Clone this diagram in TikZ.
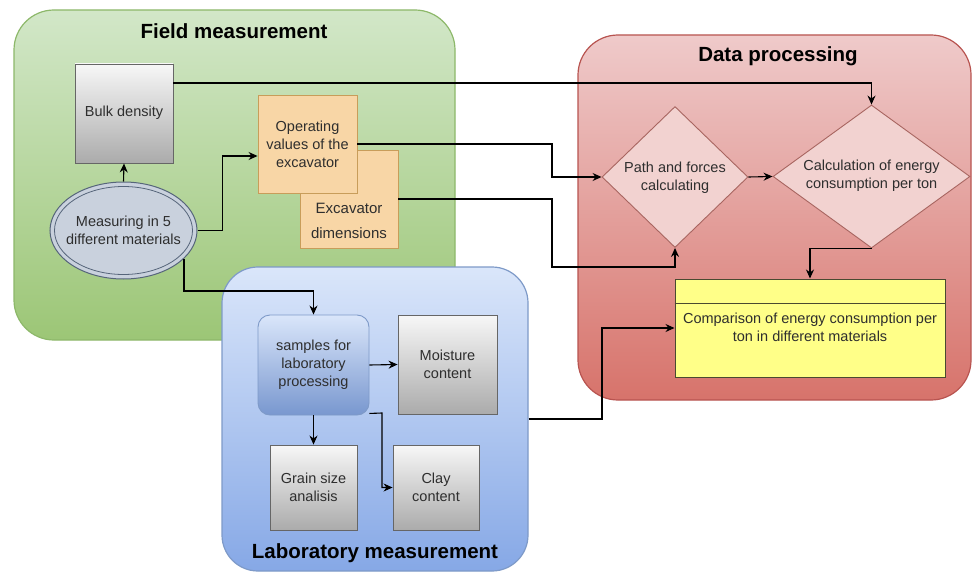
\documentclass[tikz,border=0pt]{standalone}
\usepackage{fontspec}
\setmainfont{Liberation Sans}
\usetikzlibrary{arrows.meta,shapes.geometric,calc}
\definecolor{gtop}{HTML}{D2E7C8}
\definecolor{gbot}{HTML}{9CC676}
\definecolor{gline}{HTML}{8DB86A}
\definecolor{rtop}{HTML}{EFCACA}
\definecolor{rbot}{HTML}{D7736B}
\definecolor{rline}{HTML}{B85450}
\definecolor{btop}{HTML}{DAE6FA}
\definecolor{bbot}{HTML}{86A8E6}
\definecolor{bline}{HTML}{7E9AC8}
\definecolor{grtop}{HTML}{F7F7F7}
\definecolor{grbot}{HTML}{ABABAB}
\definecolor{grline}{HTML}{666666}
\definecolor{ofill}{HTML}{F8D6A6}
\definecolor{oline}{HTML}{C89D5A}
\definecolor{efill}{HTML}{C9D1DD}
\definecolor{eline}{HTML}{56657A}
\definecolor{dfill}{HTML}{F2D2D0}
\definecolor{dline}{HTML}{A86560}
\definecolor{yfill}{HTML}{FFFF88}
\definecolor{yline}{HTML}{4A4A30}
\definecolor{txt}{HTML}{2E2E2E}
\tikzset{
  container/.style={draw, line width=1.2pt, rounded corners=40pt, inner sep=0pt},
  graybox/.style={draw=grline, line width=0.9pt, top color=grtop, bottom color=grbot, inner sep=0pt},
  orangebox/.style={draw=oline, line width=0.9pt, fill=ofill, inner sep=0pt},
  bodytext/.style={text=txt, font=\fontsize{14.5}{18}\selectfont, align=center, inner sep=0pt},
  titletext/.style={font=\bfseries\fontsize{20.5}{24}\selectfont, inner sep=0pt},
  conn/.style={draw=black, line width=1.1pt, -{Stealth[length=9pt,width=8pt]}},
}
\begin{document}
\begin{tikzpicture}[x=1pt,y=-1pt]
\useasboundingbox (0,0) rectangle (973,572);
\fill[white] (0,0) rectangle (973,572);
% containers
\node[container, draw=gline, top color=gtop, bottom color=gbot, minimum width=441pt, minimum height=330pt] (field) at (234.5,175) {};
\node[container, draw=rline, top color=rtop, bottom color=rbot, minimum width=393pt, minimum height=365pt] (data) at (774.5,217.5) {};
\node[container, draw=bline, rounded corners=36pt, top color=btop, bottom color=bbot, minimum width=306pt, minimum height=304pt] (lab) at (375,419) {};
\node[titletext] (fieldtitle) at (234,31) {Field measurement};
\node[titletext] (datatitle) at (778,56) {Data processing};
\node[titletext] (labtitle) at (375,553) {Laboratory measurement};
% field nodes
\node[graybox, minimum width=98pt, minimum height=99pt] (bulk) at (124,113.5) {};
\node[bodytext] (bulkt) at (124,113) {Bulk density};
\node[ellipse, draw=eline, line width=1pt, fill=efill, minimum width=147pt, minimum height=97pt, inner sep=0pt] (meas) at (123.5,230.5) {};
\node[ellipse, draw=eline, line width=0.8pt, minimum width=138pt, minimum height=88pt, inner sep=0pt] (measin) at (123.5,230.5) {};
\node[bodytext] (meast) at (123.5,230.5) {Measuring in 5\\different materials};
\node[orangebox, minimum width=98pt, minimum height=98pt] (exc) at (349,199) {};
\node[bodytext, font=\fontsize{15}{25}\selectfont] (exct) at (349,221) {Excavator\\dimensions};
\node[orangebox, minimum width=99pt, minimum height=98pt] (oper) at (307.5,144) {};
\node[bodytext] (opert) at (307.5,144) {Operating\\values of the\\excavator};
% data nodes
\node[diamond, draw=dline, line width=0.9pt, fill=dfill, minimum width=146pt, minimum height=141pt, inner sep=0pt] (d1) at (675,177) {};
\node[bodytext] (d1t) at (675,178) {Path and forces\\calculating};
\node[diamond, draw=dline, line width=0.9pt, fill=dfill, minimum width=197pt, minimum height=143pt, inner sep=0pt] (d2) at (871.5,176.5) {};
\node[bodytext] (d2t) at (871.5,176) {Calculation of energy\\consumption per ton};
\node[draw=yline, line width=1pt, fill=yfill, minimum width=270pt, minimum height=98pt, inner sep=0pt] (yellow) at (810,328) {};
\draw[draw=yline, line width=1pt] ([yshift=-25pt]yellow.north west) -- ([yshift=-25pt]yellow.north east);
\node[bodytext] (yellowt) at (810,327.5) {Comparison of energy consumption per\\ton in different materials};
% lab nodes
\node[draw=bline, line width=0.9pt, rounded corners=12pt, top color=btop, bottom color=bbot!90!black, minimum width=111pt, minimum height=100pt, inner sep=0pt] (samples) at (313.5,365) {};
\node[bodytext] (samplest) at (313.5,365) {samples for\\laboratory\\processing};
\node[graybox, minimum width=99pt, minimum height=99pt] (moist) at (447.5,364.5) {};
\node[bodytext] (moistt) at (447.5,364) {Moisture\\content};
\node[graybox, minimum width=87pt, minimum height=85pt] (grain) at (313.5,487.5) {};
\node[bodytext] (graint) at (313.5,487) {Grain size\\analisis};
\node[graybox, minimum width=86pt, minimum height=85pt] (clay) at (436,487.5) {};
\node[bodytext] (clayt) at (436,487) {Clay\\content};
% bend coordinates
\coordinate (b1) at (552,144);
\coordinate (b2) at (552,267);
\coordinate (b3) at (602,419);
\coordinate (b4) at (185,291);
\coordinate (b5) at (382,413);
% connectors
\draw[conn] (meas.north) -- (bulk.south);
\draw[conn] (meas.east) -- ++(25,0) |- ([yshift=-12pt]oper.west);
\draw[conn] (meas.-25) |- (b4) -| (samples.north);
\draw[conn] ([yshift=30.5pt]bulk.east) -| (d2.north);
\draw[conn] (oper.east) -- (b1) |- (d1.west);
\draw[conn] (exc.east) -| (b2) -| (d1.south);
\draw[conn] (d1.east) -- (d2.west);
\draw[conn] (d2.south) -| (yellow.north);
\draw[conn] (lab.east) -- (b3) |- (yellow.west);
\draw[conn] (samples.east) -- (moist.west);
\draw[conn] (samples.south) -- (grain.north);
\draw[conn] ([yshift=2pt]samples.south east) -- (b5) |- (clay.west);
\end{tikzpicture}
\end{document}
